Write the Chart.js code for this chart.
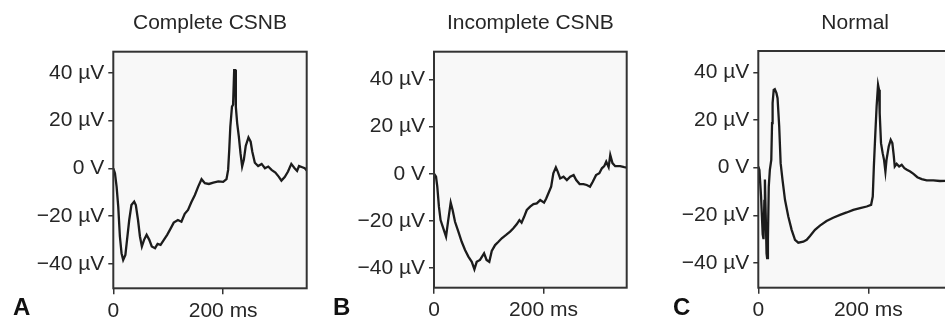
<!DOCTYPE html>
<html>
<head>
<meta charset="utf-8">
<script src="https://cdn.jsdelivr.net/npm/chart.js@4.4.0/dist/chart.umd.min.js"></script>
<style>
  html, body { margin: 0; padding: 0; background: #fff; overflow: hidden; }
  #wrap { position: relative; width: 945px; height: 320px; overflow: hidden; }
  canvas { position: absolute; top: 0; }
</style>
</head>
<body>
<div id="wrap">
  <canvas id="panelA" width="320" height="320" style="left:0px"></canvas>
  <canvas id="panelB" width="320" height="320" style="left:320px"></canvas>
  <canvas id="panelC" width="330" height="320" style="left:640px"></canvas>
</div>
<script>
// ERG traces, time in ms and amplitude in µV
var titles = ["Complete CSNB", "Incomplete CSNB", "Normal"];
var letters = ["A", "B", "C"];
var yTicks = [-40, -20, 0, 20, 40];
var xTicks = [0, 200];

var timeA = [0,3,6,9,12,15,18,22,25,29,33,38,41,45,48.5,52,56,60.6,65.5,70,76,80.6,86,92,98,104,110,117.6,124,130,136,142,148.5,154.5,160.6,166.7,174,182,191,200,206,209,211,213,216,218,220,222,223,225.5,228.5,231.5,234.5,237.6,241,246,250,253,257.6,263.6,270,276,282,288,295,301,306,312,318,324,330,334.5,338,344,348.5,352];
var voltA = [0,-2,-7.6,-16,-28.5,-35.5,-38.3,-36.2,-29.9,-21.6,-15.3,-13.9,-15.3,-21.6,-28.5,-32.7,-29.9,-27.8,-29.9,-32.7,-33.4,-31.6,-32,-29.9,-27.8,-25.3,-22.7,-21.6,-22.3,-19,-17.4,-14.2,-11.1,-7.6,-4.5,-6.2,-6.5,-5.9,-5.4,-5.6,-4.5,-0.6,7.7,17.5,25.9,26.7,41.2,41.2,25.9,18.9,13.3,6.4,0.8,3.6,9.4,13,11.2,7,2.4,1,1.9,0.1,0.8,-0.6,-1.7,-3.4,-5.1,-3.6,-1.3,1.9,0.1,-1,1,0.5,0.1,-0.8];

var timeB = [0,3.7,6,9,12,17,22,26,30.5,34,38.4,44.5,50.6,56.7,62.8,69,73.8,78,84,91.5,96,101,105.5,111.6,117.7,123.8,131.7,139,145,151,156,160,164.6,169.5,175.6,181.7,187.8,194,201,205,209,214,218,222.6,226,230.5,236.6,242.7,248.8,255,259.8,266,273,279,285,290,296,302,306.7,311,314.6,319,322,326,331,340,347.6,352.4];
var voltB = [0,-1.3,-5.5,-14,-19.7,-23.2,-26.7,-19.7,-12.3,-15.4,-20.4,-24.6,-28.9,-32.4,-35.2,-37.4,-40.6,-37.4,-36.6,-33.8,-36.6,-37.4,-32.8,-30.3,-28.9,-27.4,-26,-24.6,-23.2,-21.5,-19.7,-20.8,-18.3,-15.4,-14,-12.9,-12.6,-11.2,-12.3,-10.5,-8.3,-5.5,0.2,2.7,0.9,-2,-1.3,-2.7,-1.3,-0.6,-2.7,-4.4,-4.4,-4.8,-5.5,-3.4,-0.6,0.2,2.3,3.2,5.1,2.8,7.9,4.5,3.2,3.2,2.8,2.6];

var timeC = [0,2,5,8,9.5,11,12,13.5,15,16,17.5,19,21,23.6,25,26,28,30,33,35,38,40.6,44,48.5,54.5,60.6,66.7,72.7,81.8,88,94,103,112,124,136,148.5,160.6,172.7,185,197,205,208,210,212.7,215,217.6,219.4,220.6,223,226,228.5,231,233,237,240.6,243.6,246,248,251.5,256,260.6,265.5,270,276,282,289,297,306,318,330,340,352];
var voltC = [0.5,-1,-12,-28,-30,-14,-5,-20,-36,-38,-30,-8,-0.9,3.3,18.7,27.1,32.7,33,31.3,29.2,17.3,1.9,-5.1,-13.5,-20.5,-26.1,-30.3,-31.5,-31.1,-30.3,-28.7,-26.1,-24.3,-22.4,-21,-19.8,-18.8,-17.7,-17,-16.3,-15.6,-12.1,0.5,14.5,25.7,34.8,32.7,22.9,10.3,6.1,3.3,-1.6,3.3,8.9,11.7,10.3,5.4,0.5,1.6,0.5,1.2,-0.2,-0.9,-1.6,-2.6,-4,-4.8,-5.3,-5.3,-5.6,-5.5,-5.5];

Chart.defaults.font.family = '"Liberation Sans", Arial, sans-serif';
Chart.defaults.font.size = 21;
Chart.defaults.color = "#262626";

// box around plot area + title above + panel letter
var panelDeco = {
  id: "panelDeco",
  beforeDraw: function (chart) {
    var a = chart.chartArea, ctx = chart.ctx;
    ctx.save();
    ctx.fillStyle = "#f8f8f8";
    ctx.fillRect(a.left, a.top, a.right - a.left, a.bottom - a.top);
    ctx.restore();
  },
  afterDraw: function (chart, args, opts) {
    var a = chart.chartArea, ctx = chart.ctx;
    ctx.save();
    ctx.strokeStyle = "#333";
    ctx.lineWidth = 2;
    ctx.strokeRect(a.left, a.top, a.right - a.left, a.bottom - a.top);
    ctx.fillStyle = "#262626";
    ctx.font = '21px "Liberation Sans", Arial, sans-serif';
    ctx.textAlign = "center";
    ctx.textBaseline = "middle";
    ctx.fillText(opts.title, (a.left + a.right) / 2, 23);
    ctx.fillStyle = "#111";
    ctx.font = 'bold 24px "Liberation Sans", Arial, sans-serif';
    ctx.textAlign = "left";
    ctx.textBaseline = "alphabetic";
    ctx.fillText(opts.letter, opts.letterX, 315);
    ctx.restore();
  }
};

function yLabel(v) {
  if (v === 0) return "0 V";
  return (v < 0 ? "\u2212" + (-v) : v) + " \u00b5V";
}

function makePanel(id, idx, times, volts, box) {
  var pts = times.map(function (t, i) { return { x: t, y: volts[i] }; });
  new Chart(document.getElementById(id), {
    type: "line",
    data: {
      datasets: [{
        data: pts,
        borderColor: "#1c1c1c",
        borderWidth: 2.3,
        pointRadius: 0,
        tension: 0,
        fill: false
      }]
    },
    options: {
      responsive: false,
      animation: false,
      layout: { padding: { top: box.top, right: box.right, left: 0, bottom: 0 } },
      plugins: {
        legend: { display: false },
        tooltip: { enabled: false },
        panelDeco: { title: titles[idx], letter: letters[idx], letterX: box.letterX }
      },
      scales: {
        x: {
          type: "linear",
          min: 0,
          max: 352,
          afterFit: function (s) { s.height = box.xh; },
          afterBuildTicks: function (s) { s.ticks = xTicks.map(function (v) { return { value: v }; }); },
          grid: { drawOnChartArea: false, tickLength: 6, color: "#333", lineWidth: 1.5 },
          border: { display: false },
          ticks: {
            padding: 4,
            maxRotation: 0,
            callback: function (v) { return v === 0 ? "0" : v + " ms"; }
          }
        },
        y: {
          min: box.ymin,
          max: box.ymax,
          afterFit: function (s) { s.width = box.left; },
          afterBuildTicks: function (s) { s.ticks = yTicks.map(function (v) { return { value: v }; }); },
          grid: { drawOnChartArea: false, tickLength: 5, color: "#333", lineWidth: 1.5 },
          border: { display: false },
          ticks: { padding: 4, callback: yLabel }
        }
      }
    },
    plugins: [panelDeco]
  });
}

makePanel("panelA", 0, timeA, voltA, { left: 113.3, right: 13.3, top: 51.7, xh: 31.7, ymin: -50.2, ymax: 48.9, letterX: 13 });
makePanel("panelB", 1, timeB, voltB, { left: 114, right: 13.3, top: 51.7, xh: 32.3, ymin: -48.4, ymax: 51.8, letterX: 13 });
makePanel("panelC", 2, timeC, voltC, { left: 118.3, right: 18, top: 51, xh: 32.3, ymin: -50.4, ymax: 49, letterX: 33 });
</script>
</body>
</html>
